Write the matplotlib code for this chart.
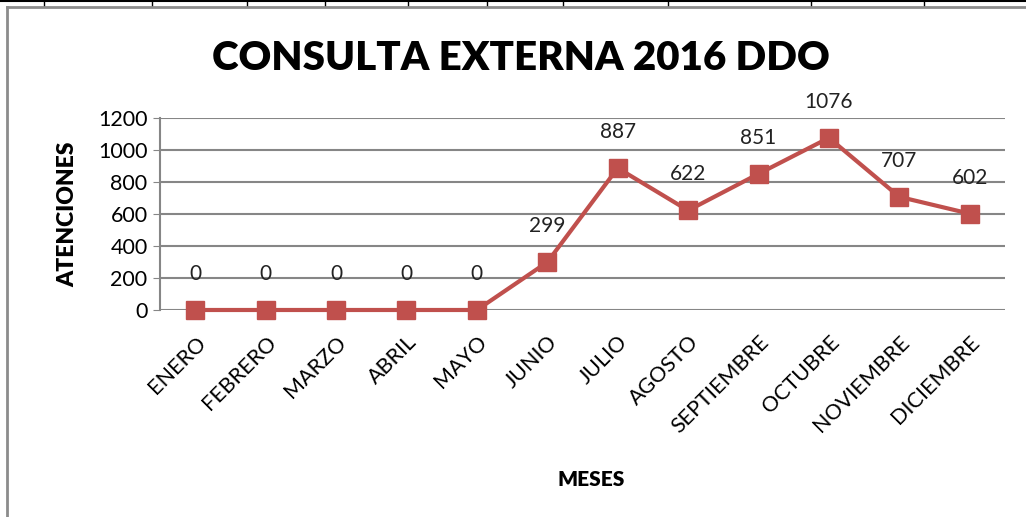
import matplotlib.pyplot as plt
from matplotlib.lines import Line2D

meses = ['ENERO', 'FEBRERO', 'MARZO', 'ABRIL', 'MAYO', 'JUNIO', 'JULIO',
         'AGOSTO', 'SEPTIEMBRE', 'OCTUBRE', 'NOVIEMBRE', 'DICIEMBRE']
atenciones = [0, 0, 0, 0, 0, 299, 887, 622, 851, 1076, 707, 602]
yticks = [0, 200, 400, 600, 800, 1000, 1200]

plt.rcParams['font.family'] = ['Lato', 'DejaVu Sans']

fig = plt.figure(figsize=(10.26, 5.17), dpi=100)
ax = fig.add_axes([0.156, 0.4004, 0.8235, 0.3714])

x = range(len(meses))
ax.plot(x, atenciones, color='#C0504D', lw=3, marker='s', ms=13,
        markeredgecolor='#C0504D', zorder=3, clip_on=False)

for i, v in enumerate(atenciones):
    ax.annotate(str(v), (i, v), xytext=(0, 26), textcoords='offset points',
                ha='center', va='center', fontsize=15, color='#222222')

ax.set_xlim(-0.5, len(meses) - 0.5)
ax.set_ylim(0, 1200)
ax.set_yticks(yticks)
ax.set_xticks(list(x))
ax.set_xticklabels(meses, rotation=45, ha='right', rotation_mode='anchor',
                   fontsize=15.5)
ax.tick_params(axis='y', labelsize=15.5, length=5, color='#868686', pad=4)
ax.tick_params(axis='x', length=0, pad=16)
ax.grid(axis='y', color='#868686', lw=1.5)
ax.set_axisbelow(True)
for s in ['top', 'right', 'bottom']:
    ax.spines[s].set_visible(False)
ax.spines['left'].set_color('#868686')
ax.spines['left'].set_linewidth(1.5)

ax.set_ylabel('ATENCIONES', fontsize=16.5, fontweight='heavy', labelpad=14)
ax.set_xlabel('MESES', fontsize=15, fontweight='heavy')
ax.xaxis.set_label_coords(0.51, -0.833)

fig.text(0.508, 0.886, 'CONSULTA EXTERNA 2016 DDO', ha='center', va='center',
         fontsize=29, fontweight='heavy')

# chart border and sheet cells behind it
fig.add_artist(Line2D([0.007, 0.007], [0, 0.986], color='#8c8c8c', lw=2))
fig.add_artist(Line2D([0.007, 1], [0.986, 0.986], color='#8c8c8c', lw=2))
fig.add_artist(Line2D([0, 1], [0.999, 0.999], color='black', lw=1.5))
for cx in [44, 152, 247, 325, 408, 487, 563, 668, 811, 924]:
    fig.add_artist(Line2D([cx / 1026, cx / 1026], [0.99, 1], color='black', lw=1))

fig.savefig('out.png', dpi=100)
